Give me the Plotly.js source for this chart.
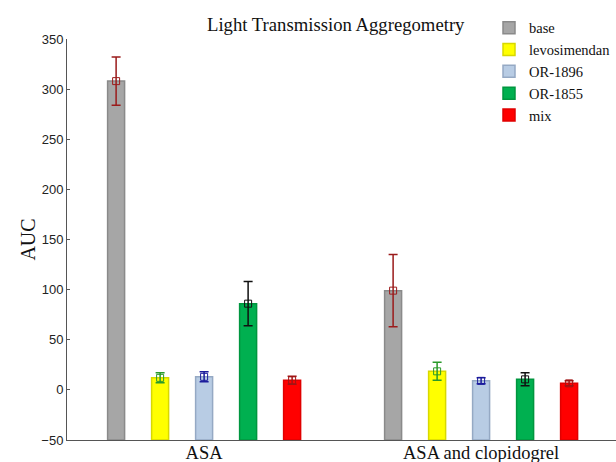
<!DOCTYPE html>
<html>
<head>
<meta charset="utf-8">
<script src="https://cdn.plot.ly/plotly-3.0.1.min.js"></script>
<style>html,body{margin:0;padding:0;background:#fff;}#chart{width:616px;height:462px;}</style>
</head>
<body>
<div id="chart"></div>
<script>
// Treatment groups on the x axis
const groups = ['ASA', 'ASA and clopidogrel'];
// Series (one per compound)
const series = ['base', 'levosimendan', 'OR-1896', 'OR-1855', 'mix'];
// Mean AUC per series, in group order
const base         = [308, 99];
const levosimendan = [12, 18.5];
const or1896       = [13, 9];
const or1855       = [86, 10.5];
const mix          = [9.5, 6.5];
// Error (±) per series, in group order
const baseErr         = [24, 36];
const levosimendanErr = [5, 9];
const or1896Err       = [5, 3];
const or1855Err       = [22, 6.5];
const mixErr          = [4, 2.5];

const values = [base, levosimendan, or1896, or1855, mix];
const errors = [baseErr, levosimendanErr, or1896Err, or1855Err, mixErr];

// Styling per series
const fills   = ['#a6a6a6', '#ffff00', '#b8cce4', '#00b050', '#ff0000'];
const edges   = ['#8a8a8a', '#d8d800', '#95a9c4', '#00963f', '#e00000'];
const errCols = ['#9b1b1b', '#2a9a2a', '#1c1c9c', '#111111', '#a01515'];

const floor = -50;          // bars rise from the bottom of the axis
const slot = 44 / 277;      // spacing between bars inside a group
const barW = 17 / 277;      // bar width

const traces = [];
series.forEach((name, s) => {
  const xs = groups.map((g, gi) => gi + (s - 2) * slot);
  traces.push({
    type: 'bar', name: name, x: xs,
    y: values[s].map(v => v - floor), base: floor, width: barW,
    marker: {color: fills[s], line: {color: edges[s], width: 1.5}},
    hoverinfo: 'skip'
  });
});
series.forEach((name, s) => {
  const xs = groups.map((g, gi) => gi + (s - 2) * slot);
  traces.push({
    type: 'scatter', mode: 'markers', name: name, showlegend: false, x: xs, y: values[s],
    marker: {symbol: 'square-open', size: 7, color: errCols[s], line: {width: 1, color: errCols[s]}},
    error_y: {type: 'data', array: errors[s], visible: true, color: errCols[s], thickness: 1.5, width: 4.5},
    hoverinfo: 'skip'
  });
});

const layout = {
  width: 616, height: 462,
  margin: {l: 67, r: 0, t: 39, b: 22},
  paper_bgcolor: '#fff', plot_bgcolor: '#fff',
  showlegend: true,
  title: {
    text: 'Light Transmission Aggregometry',
    font: {family: 'Liberation Serif, serif', size: 18.7, color: '#111'},
    xref: 'container', yref: 'container', x: 0.545, y: 0.947, xanchor: 'center', yanchor: 'middle'
  },
  legend: {
    x: 1, y: 1.068, xanchor: 'right', yanchor: 'top',
    font: {family: 'Liberation Serif, serif', size: 14.5, color: '#111'},
    bgcolor: 'rgba(0,0,0,0)', borderwidth: 0, tracegroupgap: 0, itemwidth: 30
  },
  xaxis: {
    range: [-0.495, 1.487],
    tickmode: 'array', tickvals: [0, 1], ticktext: groups,
    showgrid: false, zeroline: false, showline: true, linecolor: '#555', linewidth: 1,
    ticks: '', ticklabelstandoff: -4,
    tickfont: {family: 'Liberation Serif, serif', size: 18.5, color: '#111'},
    fixedrange: true
  },
  yaxis: {
    range: [-50, 350], tickvals: [-50, 0, 50, 100, 150, 200, 250, 300, 350],
    showgrid: false, zeroline: false, showline: true, linecolor: '#555', linewidth: 1,
    ticks: 'inside', ticklen: 3, tickcolor: '#555',
    tickfont: {family: 'Liberation Sans, Arial, sans-serif', size: 13, color: '#222'},
    title: {text: 'AUC', font: {family: 'Liberation Serif, serif', size: 20, color: '#111'}, standoff: 0},
    fixedrange: true
  },
  bargap: 0, barmode: 'overlay'
};

Plotly.newPlot('chart', traces, layout, {displayModeBar: false, staticPlot: true});
</script>
</body>
</html>
